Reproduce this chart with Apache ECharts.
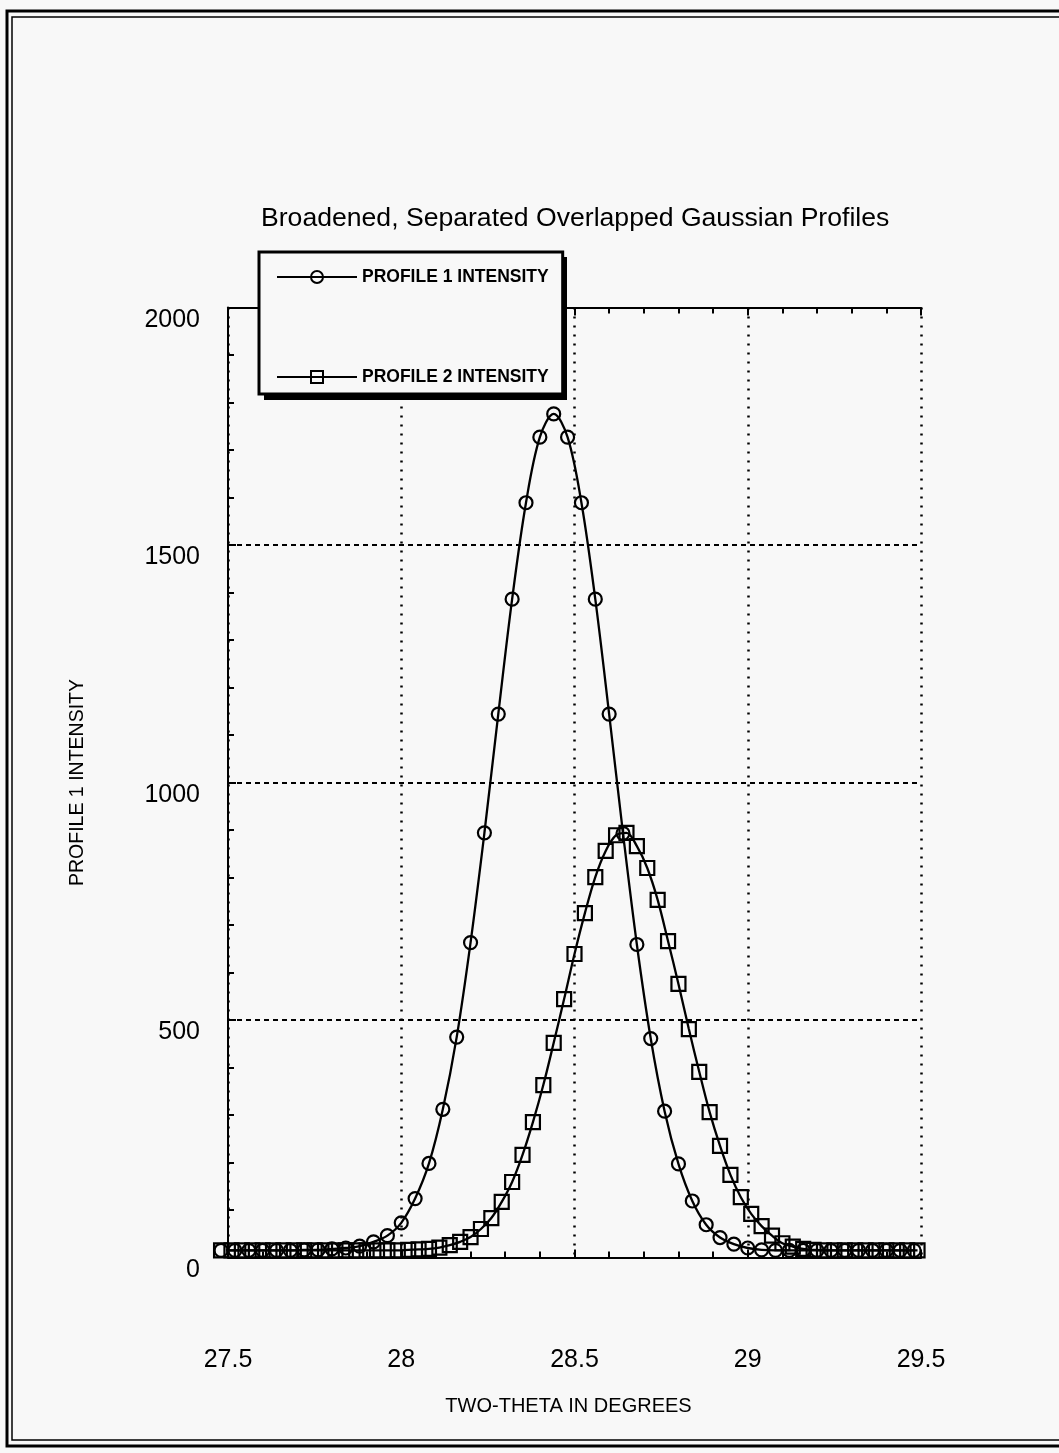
<!DOCTYPE html>
<html>
<head>
<meta charset="utf-8">
<script src="https://cdn.jsdelivr.net/npm/echarts@6/dist/echarts.min.js"></script>
<style>
html,body{margin:0;padding:0;background:#f8f8f8;}
#chart{width:1059px;height:1453px;}
</style>
</head>
<body>
<div id="chart"></div>
<script>
// ---- data ----
const titleText = 'Broadened, Separated Overlapped Gaussian Profiles';
const xAxisName = 'TWO-THETA IN DEGREES';
const yAxisName = 'PROFILE 1 INTENSITY';
const seriesNames = ['PROFILE 1 INTENSITY', 'PROFILE 2 INTENSITY'];

const profile1X = [27.48,27.52,27.56,27.60,27.64,27.68,27.72,27.76,27.80,27.84,27.88,27.92,27.96,28.00,28.04,28.08,28.12,28.16,28.20,28.24,28.28,28.32,28.36,28.40,28.44,28.48,28.52,28.56,28.60,28.64,28.68,28.72,28.76,28.80,28.84,28.88,28.92,28.96,29.00,29.04,29.08,29.12,29.16,29.20,29.24,29.28,29.32,29.36,29.40,29.44,29.48];
const profile1Y = [15,15,15,15,15,15,16,16,18,20,24,33,46,73,124,198,312,464,663,894,1144,1386,1589,1727,1776,1727,1589,1386,1144,893,659,461,308,197,119,69,42,28,20,16,15,15,15,15,15,15,15,15,15,15,15];

const profile2X = [27.48,27.51,27.54,27.57,27.60,27.63,27.66,27.69,27.72,27.75,27.78,27.81,27.84,27.87,27.90,27.93,27.96,27.99,28.02,28.05,28.08,28.11,28.14,28.17,28.20,28.23,28.26,28.29,28.32,28.35,28.38,28.41,28.44,28.47,28.50,28.53,28.56,28.59,28.62,28.65,28.68,28.71,28.74,28.77,28.80,28.83,28.86,28.89,28.92,28.95,28.98,29.01,29.04,29.07,29.10,29.13,29.16,29.19,29.22,29.25,29.28,29.31,29.34,29.37,29.40,29.43,29.46,29.49];
const profile2Y = [15,15,15,15,15,15,15,15,15,15,15,15,15,15,15,15,15,15,16,17,18,21,26,33,43,60,83,117,159,216,285,363,452,544,639,725,801,856,889,894,866,820,753,666,576,481,391,306,235,174,127,92,66,46,30,23,18,16,15,15,15,15,15,15,15,15,15,15];

const xMin = 27.5, xMax = 29.5, xStep = 0.5;
const yMin = 0, yMax = 2000, yStep = 500;

// ---- chart ----
const FONT = '"Liberation Sans", Arial, sans-serif';
const pair = (xs, ys) => xs.map((x, i) => [x, ys[i]]);
const chart = echarts.init(document.getElementById('chart'), null, {renderer: 'canvas'});

const baseSeries = {
  type: 'line',
  smooth: 0.35,
  clip: false,
  showAllSymbol: true,
  lineStyle: {color: '#000', width: 2.3},
  itemStyle: {color: 'rgba(0,0,0,0)', borderColor: '#000', borderWidth: 2.2},
  emphasis: {disabled: true},
  animation: false
};

chart.setOption({
  backgroundColor: '#f8f8f8',
  animation: false,
  title: {
    text: titleText,
    left: 256, top: 200,
    textStyle: {fontFamily: FONT, fontSize: 26.6, fontWeight: 'normal', color: '#000'}
  },
  legend: {
    left: 259, top: 252,
    orient: 'vertical',
    itemWidth: 80, itemHeight: 15, itemGap: 82,
    padding: [16, 14, 8, 17],
    backgroundColor: '#f8f8f8',
    borderColor: '#000', borderWidth: 3,
    textStyle: {fontFamily: FONT, fontSize: 17.5, fontWeight: 'bold', color: '#000'},
    data: seriesNames,
    z: 10
  },
  grid: {left: 228, right: 138, top: 307.5, bottom: 195.5, containLabel: false},
  xAxis: [{
    type: 'value', position: 'bottom',
    min: xMin, max: xMax, interval: xStep,
    name: xAxisName, nameLocation: 'middle', nameGap: 139,
    nameTextStyle: {fontFamily: FONT, fontSize: 20, color: '#000', padding: [0, 12, 0, 0]},
    axisLine: {show: true, lineStyle: {color: '#000', width: 2}},
    axisTick: {show: true, inside: true, length: 8, lineStyle: {color: '#000', width: 2}},
    minorTick: {show: true, splitNumber: 5, length: 6, lineStyle: {color: '#000', width: 2}},
    axisLabel: {margin: 90, fontFamily: FONT, fontSize: 25, color: '#000',
      formatter: v => String(Math.round(v * 10) / 10)},
    splitLine: {show: true, lineStyle: {color: '#000', width: 2.5, type: [2, 7]}}
  }, {
    type: 'value', position: 'top',
    min: xMin, max: xMax, interval: xStep,
    axisLine: {show: true, lineStyle: {color: '#000', width: 2}},
    axisTick: {show: true, inside: true, length: 8, lineStyle: {color: '#000', width: 2}},
    minorTick: {show: true, splitNumber: 5, length: 6, lineStyle: {color: '#000', width: 2}},
    axisLabel: {show: false},
    splitLine: {show: false}
  }],
  yAxis: {
    type: 'value',
    min: yMin, max: yMax, interval: yStep,
    name: yAxisName, nameLocation: 'middle', nameGap: 140,
    nameTextStyle: {fontFamily: FONT, fontSize: 19.5, color: '#000'},
    axisLine: {show: true, lineStyle: {color: '#000', width: 2}},
    axisTick: {show: true, inside: true, length: 8, lineStyle: {color: '#000', width: 2}},
    minorTick: {show: true, splitNumber: 5, length: 6, lineStyle: {color: '#000', width: 2}},
    axisLabel: {margin: 28, fontFamily: FONT, fontSize: 25, color: '#000', verticalAlign: 'top',
      formatter: v => String(v)},
    splitLine: {show: true, lineStyle: {color: '#000', width: 2, type: [5, 4]}}
  },
  series: [
    Object.assign({}, baseSeries, {
      name: seriesNames[0], symbol: 'circle', symbolSize: 13,
      data: pair(profile1X, profile1Y)
    }),
    Object.assign({}, baseSeries, {
      name: seriesNames[1], symbol: 'rect', symbolSize: 14,
      data: pair(profile2X, profile2Y)
    })
  ],
  graphic: [
    {type: 'rect', silent: true, z: -1,
      shape: {x: 7, y: 11, width: 1070, height: 1435},
      style: {fill: 'none', stroke: '#000', lineWidth: 3}},
    {type: 'rect', silent: true, z: -1,
      shape: {x: 12, y: 17, width: 1070, height: 1423},
      style: {fill: 'none', stroke: '#000', lineWidth: 1.5}},
    // drop shadow of the legend box
    {type: 'rect', silent: true, z: 9,
      shape: {x: 264, y: 257, width: 303, height: 143},
      style: {fill: '#000', stroke: 'none'}}
  ]
});
</script>
</body>
</html>
